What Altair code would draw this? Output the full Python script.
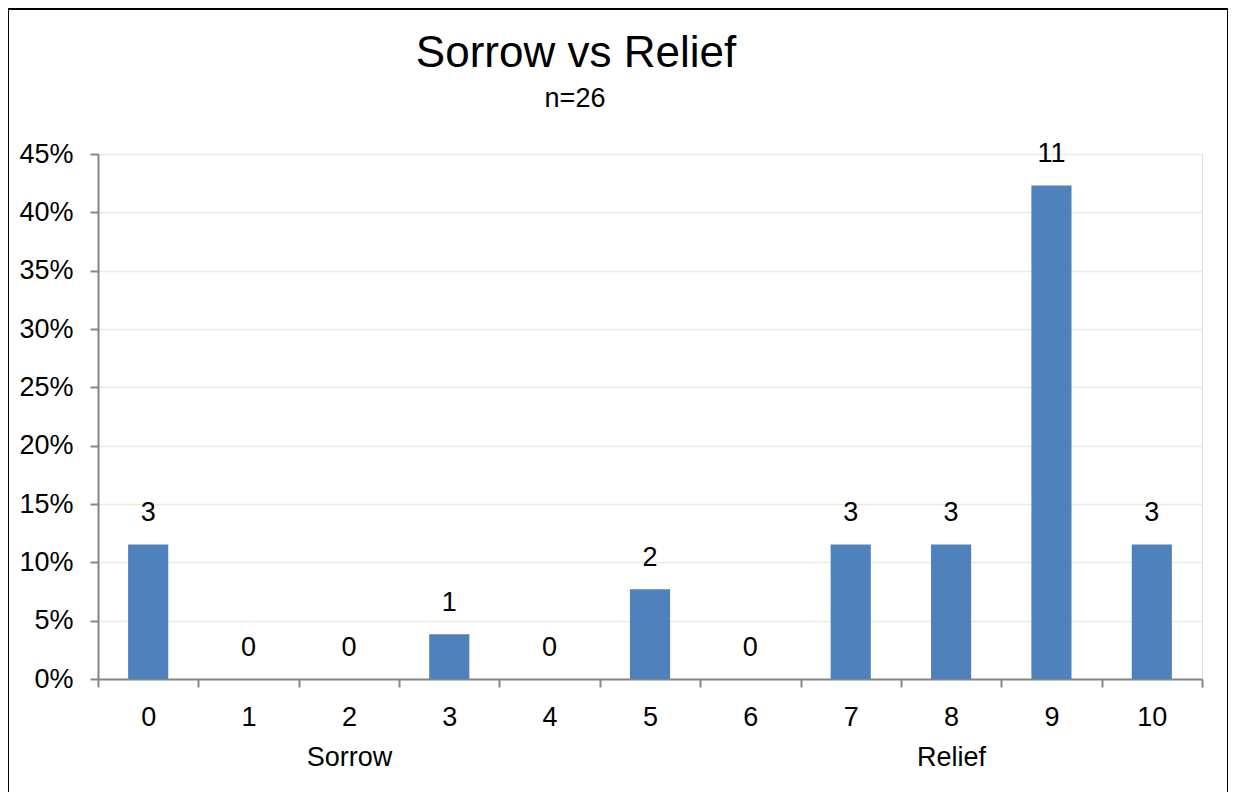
import altair as alt
import pandas as pd

# ---- data ----
scores = ["0", "1", "2", "3", "4", "5", "6", "7", "8", "9", "10"]
counts = [3, 0, 0, 1, 0, 2, 0, 3, 3, 11, 3]
n_total = 26
y_ticks = [0, 0.05, 0.10, 0.15, 0.20, 0.25, 0.30, 0.35, 0.40, 0.45]
group_labels = {"2": "Sorrow", "8": "Relief"}
title_text = "Sorrow vs Relief"
subtitle_text = "n=26"

df = pd.DataFrame({"score": scores, "count": counts})
df["pct"] = df["count"] / n_total

FONT = "Liberation Sans Narrow, Arial Narrow, Liberation Sans, Arial, sans-serif"
AXIS_GRAY = "#868686"
LABEL_SIZE = 27

label_expr = "".join(
    f"datum.label == '{k}' ? ['{k}', '{v}'] : " for k, v in group_labels.items()
) + "datum.label"

x_enc = alt.X(
    "score:N",
    sort=scores,
    scale=alt.Scale(paddingInner=0, paddingOuter=0),
    axis=alt.Axis(
        title=None, labelAngle=0, tickBand="extent", grid=False,
        domainColor=AXIS_GRAY, domainWidth=2, tickColor=AXIS_GRAY, tickWidth=2,
        tickSize=8, labelPadding=17, labelFontSize=LABEL_SIZE, labelFont=FONT,
        labelColor="black", labelLineHeight=40, labelExpr=label_expr,
    ),
)
y_enc = alt.Y(
    "pct:Q",
    scale=alt.Scale(domain=[0, 0.45], nice=False, zero=True),
    axis=alt.Axis(
        title=None, values=y_ticks, format=".0%", grid=True,
        gridColor="#EDE9DF", gridWidth=1.5,
        domainColor=AXIS_GRAY, domainWidth=2, tickColor=AXIS_GRAY, tickWidth=2,
        tickSize=8, labelPadding=17, labelFontSize=LABEL_SIZE, labelFont=FONT,
        labelColor="black",
    ),
)

bars = alt.Chart(df).mark_bar(
    color="#4F81BD", width=alt.RelativeBandSize(0.4)
).encode(x=x_enc, y=y_enc)
labels = alt.Chart(df).mark_text(
    baseline="alphabetic", dy=-23, fontSize=LABEL_SIZE, font=FONT, color="black"
).encode(x=alt.X("score:N", sort=scores), y="pct:Q", text="count:Q")

title_df = pd.DataFrame({"t": [title_text]})
title_mark = alt.Chart(title_df).mark_text(
    fontSize=44, font=FONT, color="black", baseline="alphabetic", align="center"
).encode(x=alt.value(478), y=alt.value(-87), text="t:N")
subtitle_df = pd.DataFrame({"t": [subtitle_text]})
subtitle_mark = alt.Chart(subtitle_df).mark_text(
    fontSize=27, font=FONT, color="black", baseline="alphabetic", align="center"
).encode(x=alt.value(477), y=alt.value(-47), text="t:N")

border = alt.Chart(pd.DataFrame({"k": [0]})).mark_rect(
    fill=None, filled=False, stroke="black", strokeWidth=3
).encode(
    x=alt.value(-90.5), x2=alt.value(1130.5),
    y=alt.value(-145.5), y2=alt.value(700),
)

chart = alt.layer(bars, labels, title_mark, subtitle_mark, border).properties(
    width=1104,
    height=525,
    autosize=alt.AutoSizeParams(type="none"),
    padding={"left": 90, "top": 146, "right": 26, "bottom": 113},
).configure_view(stroke=None).configure(background="white")

chart.save("out.html", embed_options={"renderer": "svg", "actions": False})
